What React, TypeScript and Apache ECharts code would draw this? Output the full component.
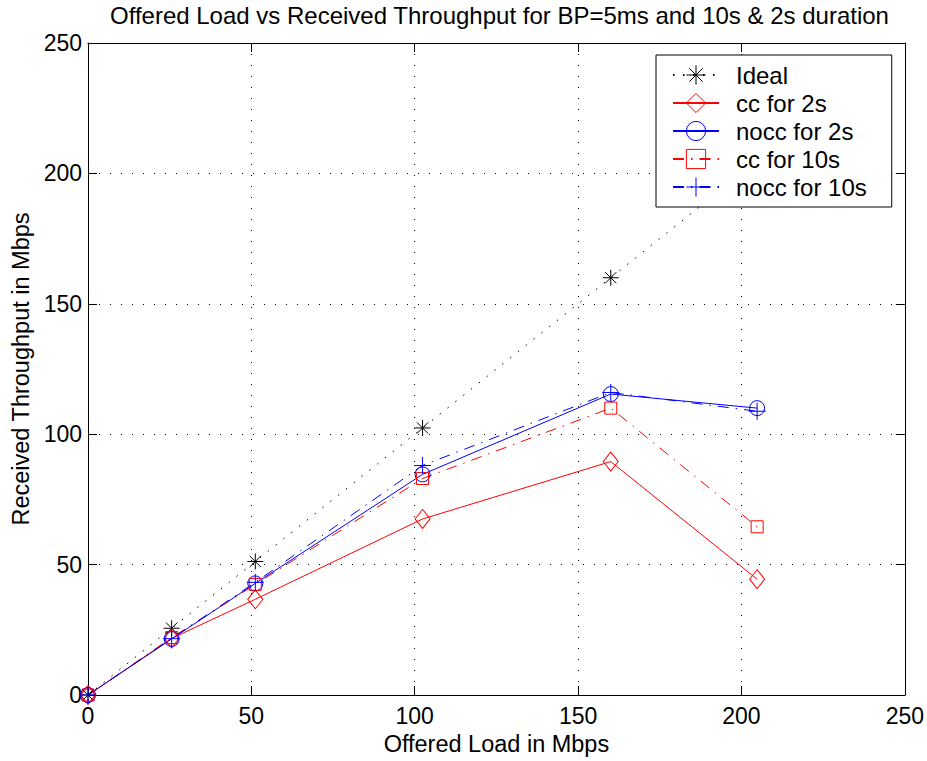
import React, { useEffect, useRef } from "react";
import * as echarts from "echarts";

const offeredLoad = [0, 25.6, 51.2, 102.4, 160, 204.8];
const ideal = [0, 25.6, 51.2, 102.4, 160, 204.8];
const cc2s = [0, 21.7, 36.7, 67.5, 89.5, 44.4];
const nocc2s = [0, 21.5, 42.8, 84.6, 115.4, 110];
const cc10s = [0, 22, 42.4, 83, 110, 64.5];
const nocc10s = [0, 21.6, 43.2, 88, 116, 108.8];
const axisTicks = [0, 50, 100, 150, 200, 250];

const FONT = "'Liberation Sans', Arial, Helvetica, sans-serif";

const SYM_STAR = "path://M0,-1L0,1M-1,0L1,0M-0.7,-0.7L0.7,0.7M-0.7,0.7L0.7,-0.7";
const SYM_PLUS = "path://M0,-1L0,1M-1,0L1,0";
const SYM_DIAMOND = "path://M0,-1.3L1,0L0,1.3L-1,0Z";
const SYM_CIRCLE = "path://M1,0A1,1 0 1,1 -1,0A1,1 0 1,1 1,0Z";
const SYM_SQUARE = "path://M-1,-1L1,-1L1,1L-1,1Z";

const pairs = (ys: number[]) => offeredLoad.map((x, i) => [x, ys[i]]);

export default function App() {
  const ref = useRef<HTMLDivElement>(null);
  useEffect(() => {
    document.body.style.margin = "0";
    const chart = echarts.init(ref.current!, undefined, { renderer: "svg" });
    const mkSeries = (
      name: string,
      ys: number[],
      color: string,
      symbol: string,
      size: number[],
      type: any
    ) => ({
      name,
      type: "line",
      data: pairs(ys),
      xAxisIndex: 0,
      yAxisIndex: 0,
      symbol,
      symbolSize: size,
      showSymbol: true,
      lineStyle: { color, width: 1, type },
      itemStyle: { color: "rgba(0,0,0,0)", borderColor: color, borderWidth: 1 },
      emphasis: { disabled: true },
      z: 2,
    });
    const dotted = [1.5, 8.5];
    const dashDot = [11, 7, 1.5, 7];
    const baseAxis = {
      type: "value",
      min: 0,
      max: 250,
      interval: 50,
      axisLine: { show: true, onZero: false, lineStyle: { color: "#000", width: 1 } },
      axisTick: { show: true, inside: true, length: 9, lineStyle: { color: "#000", width: 1 } },
    };
    chart.setOption({
      animation: false,
      backgroundColor: "#fff",
      textStyle: { fontFamily: FONT },
      title: {
        text: "Offered Load vs Received Throughput for BP=5ms and 10s & 2s duration",
        left: 110,
        top: 3,
        padding: 0,
        textStyle: { fontFamily: FONT, fontSize: 24, fontWeight: "normal", color: "#000" },
      },
      grid: { left: 88, right: 20, top: 43, bottom: 66, containLabel: false },
      legend: {
        orient: "vertical",
        left: 656,
        top: 55,
        padding: [8, 25, 8, 16],
        itemGap: 4,
        itemWidth: 46,
        itemHeight: 24,
        backgroundColor: "#fff",
        borderColor: "#000",
        borderWidth: 1,
        borderRadius: 0,
        selectedMode: false,
        itemStyle: { borderWidth: 1 },
        textStyle: {
          fontFamily: FONT,
          fontSize: 24,
          lineHeight: 24,
          color: "#000",
          padding: [0, 0, 0, 12],
        },
        data: ["Ideal", "cc for 2s", "nocc for 2s", "cc for 10s", "nocc for 10s"],
        z: 10,
      },
      xAxis: [
        {
          ...baseAxis,
          position: "bottom",
          name: "Offered Load in Mbps",
          nameLocation: "middle",
          nameGap: 34,
          nameTextStyle: { fontFamily: FONT, fontSize: 23.5, color: "#000" },
          axisLabel: {
            fontFamily: FONT,
            fontSize: 23,
            color: "#000",
            margin: 9,
            formatter: (v: number) => (axisTicks.includes(v) ? String(v) : ""),
          },
          splitLine: { show: true, lineStyle: { color: "#000", width: 1, type: [1, 10] } },
        },
        {
          ...baseAxis,
          position: "top",
          axisLabel: { show: false },
          splitLine: { show: false },
        },
      ],
      yAxis: [
        {
          ...baseAxis,
          position: "left",
          name: "Received Throughput in Mbps",
          nameLocation: "middle",
          nameGap: 54,
          nameTextStyle: { fontFamily: FONT, fontSize: 23.5, color: "#000" },
          axisLabel: { fontFamily: FONT, fontSize: 23, color: "#000", margin: 6 },
          splitLine: { show: true, lineStyle: { color: "#000", width: 1, type: [1, 10] } },
        },
        {
          ...baseAxis,
          position: "right",
          axisLabel: { show: false },
          splitLine: { show: false },
        },
      ],
      series: [
        mkSeries("Ideal", ideal, "#000000", SYM_STAR, [16, 16], dotted),
        mkSeries("cc for 2s", cc2s, "#ff0000", SYM_DIAMOND, [15, 19], "solid"),
        mkSeries("nocc for 2s", nocc2s, "#0000ff", SYM_CIRCLE, [15, 15], "solid"),
        mkSeries("cc for 10s", cc10s, "#ff0000", SYM_SQUARE, [12, 12], dashDot),
        mkSeries("nocc for 10s", nocc10s, "#0000ff", SYM_PLUS, [17, 17], dashDot),
      ],
    });
    return () => chart.dispose();
  }, []);
  return <div ref={ref} style={{ width: 927, height: 761, background: "#fff" }} />;
}
